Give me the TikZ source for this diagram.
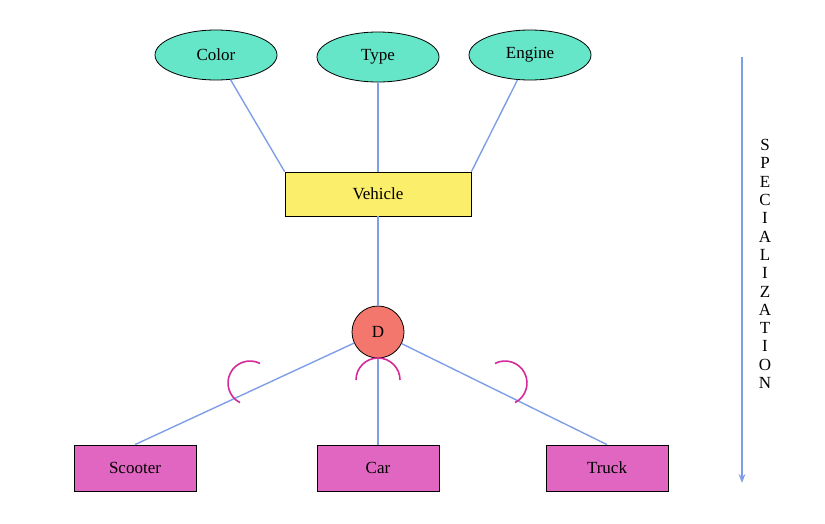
\documentclass[tikz,border=0pt]{standalone}
\usepackage{fontspec}
\setmainfont{Liberation Serif}
\usetikzlibrary{shapes,arrows,arrows.meta,positioning,calc}
\definecolor{attrgreen}{HTML}{66E6C8}
\definecolor{entyellow}{HTML}{FBEE6A}
\definecolor{dred}{HTML}{F4776E}
\definecolor{subpink}{HTML}{E066C1}
\definecolor{linkblue}{HTML}{7F9EE8}
\definecolor{arcpink}{HTML}{D42A9A}

\begin{document}
\begin{tikzpicture}[x=1pt, y=-1pt,
    attr/.style={ellipse, draw, thick, fill=attrgreen, minimum width=122pt, minimum height=50pt, font=\fontsize{17}{20}\selectfont},
    entity/.style={rectangle, draw, thick, minimum width=122pt, minimum height=46pt, font=\fontsize{17}{20}\selectfont},
    link/.style={linkblue, line width=1.4pt},
    subset/.style={arcpink, line width=1.6pt}
]
    \useasboundingbox (0,0) rectangle (825,523);
    % Attributes
    \node[attr] (color) at (216,55) {Color};
    \node[attr] (type) at (378,57) {Type};
    \node[attr] (engine) at (530,55) {Engine};

    % Superclass and disjoint circle
    \node[entity, fill=entyellow, minimum width=186pt, minimum height=44pt] (vehicle) at (378,194) {Vehicle};
    \node[circle, draw, thick, fill=dred, minimum size=52pt, font=\fontsize{17}{20}\selectfont] (d) at (378,332) {D};

    % Subclasses
    \node[entity, fill=subpink] (scooter) at (135,468) {Scooter};
    \node[entity, fill=subpink] (car) at (378,468) {Car};
    \node[entity, fill=subpink] (truck) at (607,468) {Truck};

    % Links
    \draw[link] (color) -- (vehicle.north west);
    \draw[link] (type) -- (vehicle);
    \draw[link] (engine) -- (vehicle.north east);
    \draw[link] (vehicle) -- (d);
    \draw[link] (d) -- (scooter.north);
    \draw[link] (d) -- (car);
    \draw[link] (d) -- (truck.north);

    % Subset arcs
    \coordinate (s1) at (250,383);
    \coordinate (s2) at (378,380);
    \coordinate (s3) at (505,383);
    \draw[subset] ($(s1)+(117:22)$) arc[start angle=117, end angle=297, radius=22];
    \draw[subset] ($(s2)+(180:22)$) arc[start angle=180, end angle=360, radius=22];
    \draw[subset] ($(s3)+(63:22)$) arc[start angle=63, end angle=-117, radius=22];

    % Specialization arrow
    \coordinate (top) at (742,57);
    \coordinate (bottom) at (742,483);
    \draw[link, -{Stealth[length=9pt]}] (top) -- (bottom);
    \node[align=center, font=\fontsize{17}{18.3}\selectfont] (spec) at (765,264)
        {S\\P\\E\\C\\I\\A\\L\\I\\Z\\A\\T\\I\\O\\N};
\end{tikzpicture}
\end{document}
